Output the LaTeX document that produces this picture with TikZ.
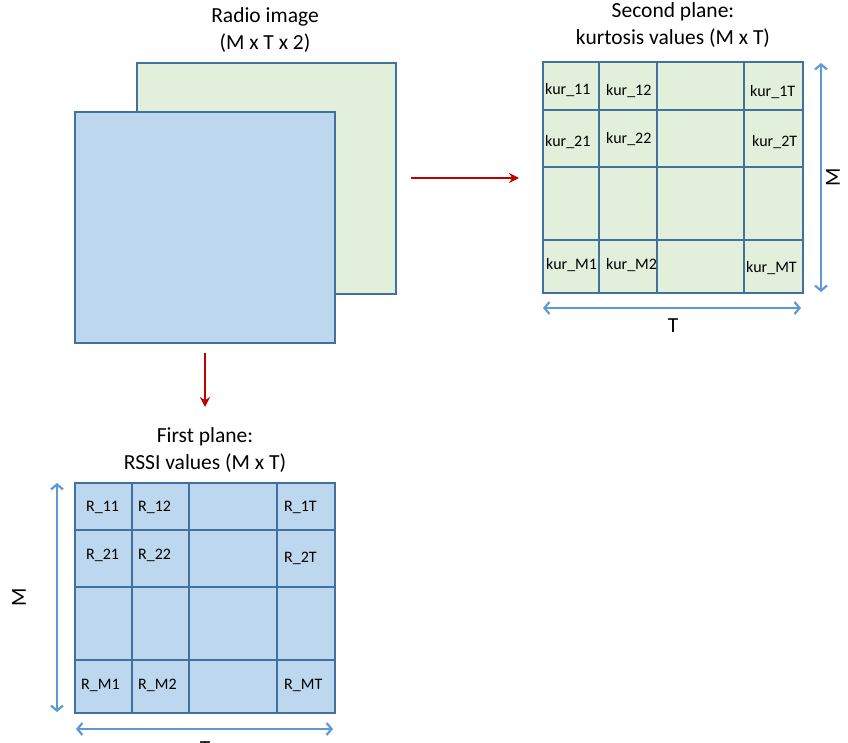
\documentclass[tikz,border=0pt]{standalone}
\usepackage{fontspec}
\setmainfont{Carlito}
\usetikzlibrary{arrows.meta}
\definecolor{fillblue}{RGB}{189,215,238}
\definecolor{fillgreen}{RGB}{226,239,218}
\definecolor{edgeblue}{RGB}{65,113,156}
\definecolor{arrblue}{RGB}{91,155,213}
\definecolor{arrred}{RGB}{192,0,0}
\begin{document}
\begin{tikzpicture}[x=1pt,y=-1pt,
  plane/.style={draw=edgeblue,line width=2.2pt,inner sep=0pt,anchor=north west},
  gridline/.style={draw=edgeblue,line width=2.2pt},
  dimarrow/.style={draw=arrblue,line width=2.2pt,{Straight Barb[length=5pt,width=12pt]}-{Straight Barb[length=5pt,width=12pt]}},
  flowarrow/.style={draw=arrred,line width=2pt,-{Stealth[length=10pt,width=10pt]}},
  title/.style={align=center,inner sep=0pt,font=\fontsize{21.5}{26.5}\selectfont},
  dimlabel/.style={inner sep=0pt,font=\fontsize{21.5}{26}\selectfont},
  cell/.style={inner sep=0pt,anchor=west,font=\fontsize{16}{19}\selectfont}]
\useasboundingbox (0,0) rectangle (848,743);
\fill[white] (0,0) rectangle (848,743);

% radio image planes
\node[plane,fill=fillgreen,minimum width=259pt,minimum height=231pt] (back) at (136,62) {};
\node[plane,fill=fillblue,minimum width=260pt,minimum height=231pt] (front) at (74,111) {};
\node[title] (radiotitle) at (265,30) {Radio image\\(M x T x 2)};

% second plane grid
\node[plane,fill=fillgreen,minimum width=260pt,minimum height=231pt] (kgrid) at (542,61) {};
\foreach \x in {599,657,744} \draw[gridline] (\x,61) -- (\x,292);
\foreach \y in {110,167,240} \draw[gridline] (542,\y) -- (802,\y);
\node[title] (ktitle) at (673,25) {Second plane:\\kurtosis values (M x T)};

% first plane grid
\node[plane,fill=fillblue,minimum width=260pt,minimum height=230pt] (rgrid) at (74,482) {};
\foreach \x in {132,189,277} \draw[gridline] (\x,482) -- (\x,712);
\foreach \y in {530,587,660} \draw[gridline] (74,\y) -- (334,\y);
\node[title] (rtitle) at (205,450) {First plane:\\RSSI values (M x T)};

% flow arrows
\coordinate (ra1) at (411,178);
\coordinate (ra2) at (519,178);
\coordinate (da1) at (205,353);
\coordinate (da2) at (205,407);
\draw[flowarrow] (ra1) -- (ra2);
\draw[flowarrow] (da1) -- (da2);

% dimension arrows, second plane
\coordinate (kmT) at (821,63);
\coordinate (kmB) at (821,292);
\coordinate (ktL) at (543,308);
\coordinate (ktR) at (801,308);
\draw[dimarrow] (kmT) -- (kmB);
\draw[dimarrow] (ktL) -- (ktR);
\node[dimlabel,rotate=90] (kM) at (833,177) {M};
\node[dimlabel] (kT) at (673,326) {T};

% dimension arrows, first plane
\coordinate (rmT) at (57,483);
\coordinate (rmB) at (57,712);
\coordinate (rtL) at (76,729);
\coordinate (rtR) at (333,729);
\draw[dimarrow] (rmT) -- (rmB);
\draw[dimarrow] (rtL) -- (rtR);
\node[dimlabel,rotate=90] (rM) at (19,597) {M};
\node[dimlabel,anchor=base] (rT) at (205,755) {T};

% kurtosis cells
\node[cell] (k11) at (545,90) {kur\_11};
\node[cell] (k12) at (606,91) {kur\_12};
\node[cell] (k1T) at (750,92) {kur\_1T};
\node[cell] (k21) at (545,142) {kur\_21};
\node[cell] (k22) at (606,139) {kur\_22};
\node[cell] (k2T) at (752,142) {kur\_2T};
\node[cell] (kM1) at (546,265) {kur\_M1};
\node[cell] (kM2) at (606,265) {kur\_M2};
\node[cell] (kMT) at (746,268) {kur\_MT};

% RSSI cells
\node[cell] (r11) at (86,507) {R\_11};
\node[cell] (r12) at (138,507) {R\_12};
\node[cell] (r1T) at (284,507) {R\_1T};
\node[cell] (r21) at (86,555) {R\_21};
\node[cell] (r22) at (138,555) {R\_22};
\node[cell] (r2T) at (284,558) {R\_2T};
\node[cell] (rM1) at (81,685) {R\_M1};
\node[cell] (rM2) at (138,685) {R\_M2};
\node[cell] (rMT) at (284,685) {R\_MT};
\end{tikzpicture}
\end{document}
